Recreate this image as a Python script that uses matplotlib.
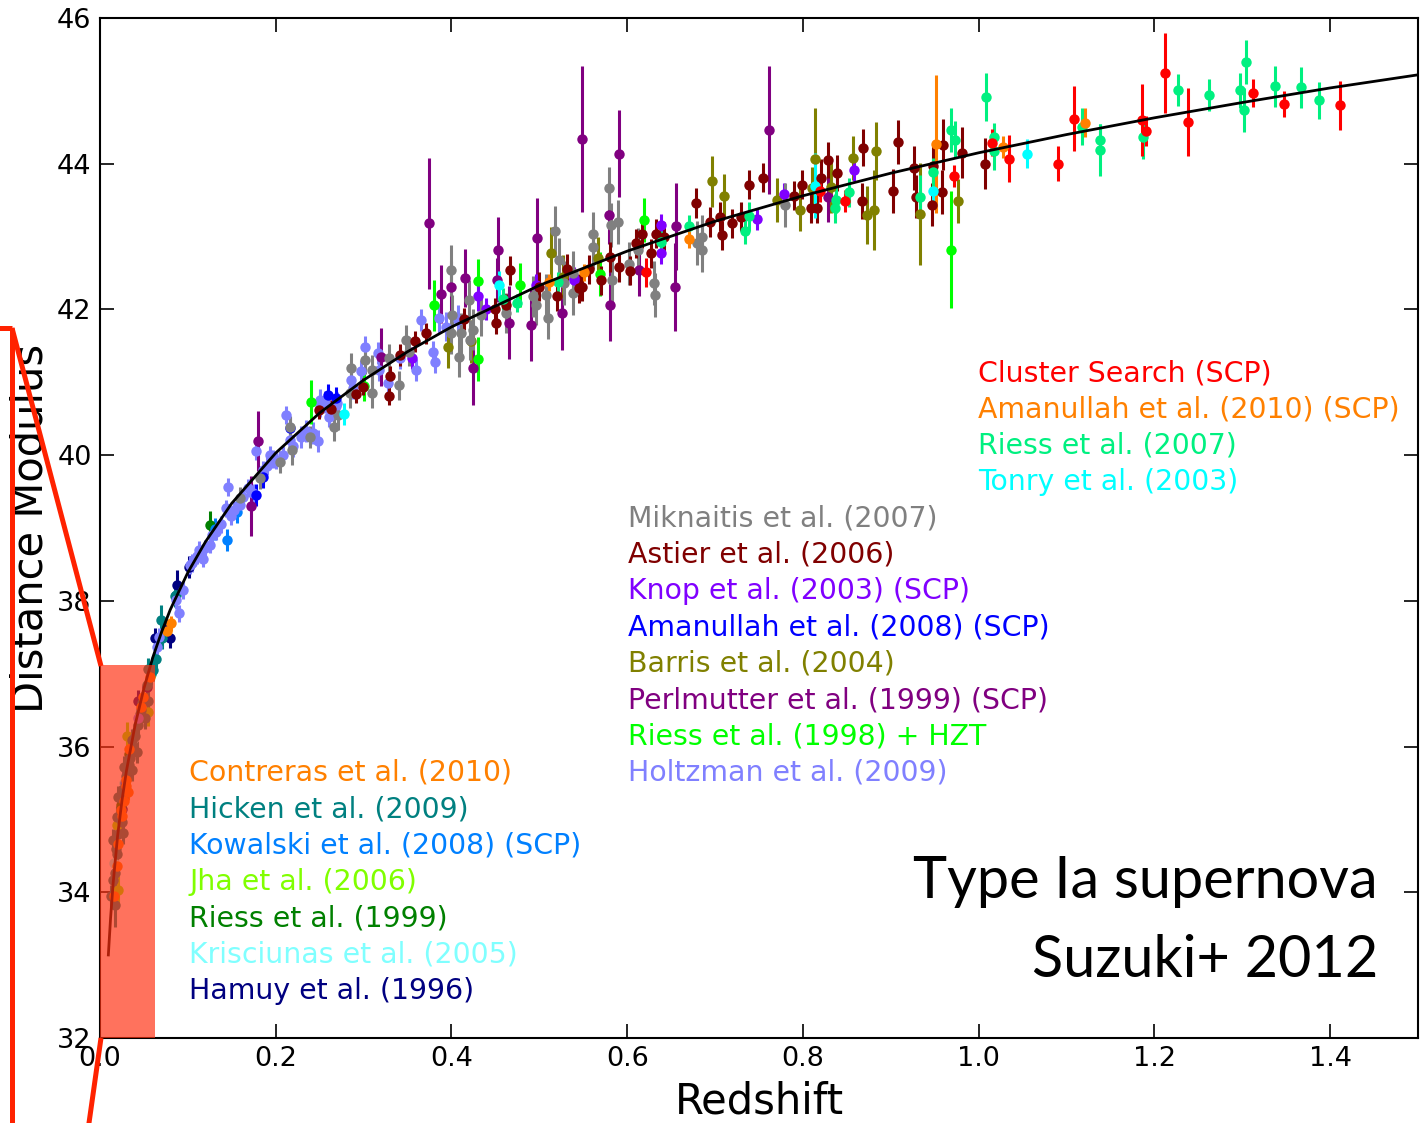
import matplotlib
matplotlib.use("Agg")
import matplotlib.pyplot as plt
from matplotlib.lines import Line2D
from matplotlib.patches import Rectangle

# ---------------- model curve ----------------
curve_z = [0.0095, 0.012, 0.015, 0.02, 0.025, 0.03, 0.04, 0.05, 0.06, 0.07, 0.08, 0.1, 0.12,
           0.15, 0.2, 0.25, 0.3, 0.35, 0.4, 0.5, 0.6, 0.7, 0.8, 0.9, 1.0, 1.1, 1.2, 1.3, 1.4, 1.5]
curve_mu = [33.14, 33.64, 34.13, 34.77, 35.26, 35.66, 36.30, 36.80, 37.22, 37.57, 37.88, 38.39, 38.81,
            39.34, 40.03, 40.58, 41.03, 41.42, 41.76, 42.33, 42.80, 43.21, 43.56, 43.87, 44.15, 44.40,
            44.63, 44.84, 45.04, 45.22]

# ---------------- datasets ----------------
hamuy_z = [0.0435, 0.054, 0.0629, 0.075, 0.0795, 0.0879, 0.1015, 0.031, 0.025]
hamuy_mu = [36.62, 36.82, 37.49, 37.60, 37.49, 38.22, 38.46, 35.65, 35.15]
hamuy_err = [0.15, 0.15, 0.14, 0.15, 0.14, 0.2, 0.15, 0.15, 0.15]

kris_z = [0.016, 0.027, 0.038]
kris_mu = [34.40, 35.50, 36.10]
kris_err = [0.15, 0.15, 0.15]

riess99_z = [0.125, 0.033, 0.024]
riess99_mu = [39.04, 35.90, 35.20]
riess99_err = [0.2, 0.15, 0.15]

jha_z = [0.055, 0.031, 0.019, 0.021]
jha_mu = [36.48, 36.14, 34.92, 34.03]
jha_err = [0.2, 0.2, 0.2, 0.2]

kow_z = [0.1307, 0.144, 0.1564, 0.028]
kow_mu = [38.99, 38.84, 39.22, 35.50]
kow_err = [0.15, 0.15, 0.15, 0.15]

hicken_z = [0.0636, 0.069, 0.070, 0.085, 0.0864, 0.055, 0.053, 0.055, 0.051, 0.040, 0.036, 0.0416,
            0.032, 0.0276, 0.036, 0.030, 0.0246, 0.021, 0.019, 0.0246, 0.0265, 0.015, 0.019, 0.017,
            0.015, 0.017, 0.045, 0.048, 0.058, 0.060, 0.034, 0.038, 0.028, 0.022, 0.026, 0.033,
            0.043, 0.047, 0.013, 0.0185, 0.020]
hicken_mu = [37.20, 37.74, 37.49, 38.06, 38.08, 37.06, 36.85, 36.62, 36.39, 36.14, 36.09, 35.93,
             35.82, 35.72, 35.68, 35.59, 35.40, 35.31, 35.04, 34.97, 34.81, 34.72, 34.53, 34.26,
             34.17, 33.83, 36.45, 36.60, 37.00, 37.05, 35.85, 36.00, 35.45, 35.05, 35.30, 35.75,
             36.30, 36.50, 33.95, 34.60, 34.80]
hicken_err = [0.12, 0.2, 0.15, 0.15, 0.12] + [0.15] * 20 + [0.3] + [0.15] * 15

contreras_z = [0.0568, 0.049, 0.0466, 0.0333, 0.0292, 0.0295, 0.0322, 0.0276, 0.0239, 0.0246,
               0.0208, 0.019, 0.0163, 0.0765, 0.0807]
contreras_mu = [36.96, 36.68, 36.55, 35.96, 35.54, 35.46, 35.37, 35.25, 35.13, 35.05,
                34.66, 34.36, 33.95, 37.58, 37.69]
contreras_err = [0.1] * 15

holtz_z = [0.0435, 0.065, 0.0674, 0.0864, 0.090, 0.0939, 0.1023, 0.105, 0.11, 0.113, 0.117, 0.12,
           0.125, 0.128, 0.132, 0.138, 0.143, 0.146, 0.1496, 0.152, 0.159, 0.163, 0.168, 0.174,
           0.178, 0.1856, 0.19, 0.193, 0.197, 0.2008, 0.208, 0.212, 0.216, 0.22, 0.229, 0.235,
           0.242, 0.248, 0.250, 0.250, 0.256, 0.261, 0.269, 0.2697, 0.286, 0.288, 0.297, 0.302,
           0.316, 0.318, 0.3276, 0.341, 0.360, 0.3655, 0.379, 0.381, 0.386, 0.394, 0.407]
holtz_mu = [36.39, 37.37, 37.51, 38.01, 37.83, 38.15, 38.49, 38.52, 38.62, 38.70, 38.58, 38.72,
            38.77, 38.90, 38.95, 39.05, 39.27, 39.56, 39.16, 39.25, 39.32, 39.42, 39.55, 39.48,
            40.06, 39.80, 39.85, 40.00, 39.95, 39.93, 40.00, 40.55, 40.21, 40.12, 40.25, 40.33,
            40.30, 40.19, 40.76, 40.67, 40.73, 40.53, 40.67, 40.71, 41.03, 40.92, 41.15, 41.49,
            41.40, 41.17, 40.99, 41.33, 41.17, 41.86, 41.42, 41.28, 41.88, 41.76, 41.86]
holtz_err = [0.12] * 32 + [0.15] * 24 + [0.2] * 3

riess98_z = [0.2405, 0.300, 0.380, 0.430, 0.430, 0.478, 0.569, 0.619, 0.968]
riess98_mu = [40.73, 40.95, 42.06, 42.39, 41.32, 42.34, 42.49, 43.23, 42.82]
riess98_err = [0.3, 0.2, 0.35, 0.3, 0.3, 0.3, 0.3, 0.3, 0.8]

perl_z = [0.172, 0.180, 0.320, 0.374, 0.388, 0.3996, 0.4155, 0.424, 0.4515, 0.4527, 0.465, 0.4905,
          0.497, 0.526, 0.549, 0.579, 0.580, 0.591, 0.6136, 0.654, 0.655, 0.761, 0.829]
perl_mu = [39.30, 40.19, 41.35, 43.18, 42.21, 42.31, 42.43, 41.19, 42.40, 42.82, 41.82, 41.79,
           42.98, 41.95, 44.34, 43.30, 42.06, 44.14, 42.54, 42.31, 43.14, 44.46, 43.55]
perl_err = [0.41, 0.41, 0.4, 0.9, 0.4, 0.35, 0.4, 0.5, 0.3, 0.45, 0.5, 0.5,
            0.55, 0.5, 1.0, 0.4, 0.5, 0.6, 0.35, 0.6, 0.6, 0.88, 0.35]

barris_z = [0.396, 0.422, 0.513, 0.527, 0.567, 0.697, 0.710, 0.771, 0.797, 0.8106, 0.8136, 0.832,
            0.857, 0.873, 0.8807, 0.8834, 0.9337, 0.9765]
barris_mu = [41.49, 41.56, 42.78, 42.45, 42.70, 43.76, 43.56, 43.50, 43.37, 43.66, 44.07, 43.68,
             44.08, 43.30, 43.37, 44.17, 43.31, 43.49]
barris_err = [0.3, 0.3, 0.35, 0.3, 0.3, 0.35, 0.3, 0.3, 0.3, 0.3, 0.7, 0.35,
              0.3, 0.4, 0.55, 0.4, 0.7, 0.3]

aman08_z = [0.178, 0.1856, 0.216, 0.2595, 0.269]
aman08_mu = [39.45, 39.70, 40.37, 40.83, 40.78]
aman08_err = [0.15, 0.15, 0.15, 0.15, 0.15]

knop_z = [0.355, 0.430, 0.439, 0.496, 0.539, 0.540, 0.639, 0.639, 0.748, 0.778, 0.858]
knop_mu = [41.33, 42.18, 42.01, 42.34, 42.41, 42.43, 43.16, 42.77, 43.24, 43.59, 43.91]
knop_err = [0.15, 0.2, 0.15, 0.15, 0.15, 0.15, 0.15, 0.15, 0.15, 0.15, 0.15]

astier_z = [0.249, 0.263, 0.2917, 0.299, 0.329, 0.330, 0.341, 0.358, 0.3705, 0.4148, 0.449, 0.451,
            0.462, 0.467, 0.500, 0.520, 0.532, 0.545, 0.549, 0.557, 0.570, 0.580, 0.591, 0.603,
            0.610, 0.617, 0.627, 0.6326, 0.642, 0.678, 0.694, 0.706, 0.7083, 0.7197, 0.729, 0.739,
            0.7545, 0.790, 0.7985, 0.8087, 0.816, 0.820, 0.8288, 0.839, 0.8667, 0.868, 0.903,
            0.908, 0.926, 0.929, 0.948, 0.947, 0.958, 0.9594, 0.981, 1.0076]
astier_mu = [40.62, 40.64, 40.84, 40.94, 40.81, 41.08, 41.37, 41.56, 41.67, 41.87, 42.01, 41.81,
             42.06, 42.54, 42.31, 42.18, 42.56, 42.29, 42.31, 42.55, 42.40, 42.72, 42.58, 42.53,
             42.91, 43.04, 42.77, 43.04, 43.00, 43.46, 43.20, 43.27, 43.02, 43.18, 43.27, 43.71,
             43.81, 43.56, 43.71, 43.39, 43.39, 43.81, 44.05, 43.87, 43.49, 44.22, 43.63,
             44.30, 43.94, 43.55, 43.97, 43.44, 43.61, 44.26, 44.15, 44.00]
astier_err = [0.12] * 5 + [0.15] * 8 + [0.2] * 28 + [0.25] * 5 + [0.3] * 7 + [0.35] * 3

mik_z = [0.159, 0.182, 0.2045, 0.216, 0.218, 0.239, 0.266, 0.271, 0.284, 0.286, 0.302, 0.309,
         0.310, 0.329, 0.340, 0.3485, 0.352, 0.3996, 0.4008, 0.3996, 0.411, 0.409, 0.420, 0.424,
         0.4337, 0.421, 0.462, 0.4925, 0.496, 0.5076, 0.5095, 0.518, 0.522, 0.528, 0.538, 0.538,
         0.5606, 0.5606, 0.5795, 0.5814, 0.590, 0.5826, 0.6015, 0.612, 0.6307, 0.632, 0.679,
         0.6856, 0.6856, 0.780]
mik_mu = [39.41, 39.68, 39.91, 40.39, 40.07, 40.25, 40.39, 40.55, 40.85, 41.20, 41.31, 40.85,
          41.17, 41.33, 40.96, 41.58, 41.42, 42.54, 41.92, 41.67, 41.67, 41.35, 42.13, 41.72,
          41.92, 41.58, 41.95, 42.18, 42.06, 42.20, 41.88, 43.07, 42.68, 42.36, 42.50, 42.22,
          43.04, 42.86, 43.66, 43.16, 43.20, 42.40, 42.63, 42.82, 42.36, 42.20, 42.91,
          42.82, 43.00, 43.43]
mik_err = [0.15, 0.15, 0.15, 0.15, 0.2, 0.15] + [0.2] * 11 + [0.35] + [0.28] * 13 + [0.35] + [0.3] * 18

tonry_z = [0.278, 0.4545, 0.814, 0.948, 1.055]
tonry_mu = [40.56, 42.33, 43.70, 43.63, 44.14]
tonry_err = [0.15, 0.2, 0.45, 0.2, 0.2]

riess07_z = [0.459, 0.475, 0.521, 0.639, 0.670, 0.734, 0.739, 0.837, 0.838, 0.852, 0.933, 0.948,
             0.968, 0.973, 1.008, 1.018, 1.018, 1.118, 1.138, 1.138, 1.1875, 1.227, 1.2625, 1.297,
             1.302, 1.304, 1.3375, 1.367, 1.387]
riess07_mu = [42.14, 42.09, 42.37, 42.92, 43.14, 43.08, 43.28, 43.39, 43.50, 43.61, 43.54, 43.88,
              44.46, 44.33, 44.91, 44.36, 44.17, 44.51, 44.32, 44.19, 44.36, 45.01, 44.94, 45.01,
              44.74, 45.40, 45.06, 45.05, 44.87]
riess07_err = [0.15, 0.12, 0.15, 0.15, 0.15, 0.18, 0.2, 0.2, 0.18, 0.2, 0.3, 0.2,
               0.3, 0.25, 0.33, 0.2, 0.25, 0.25, 0.22, 0.36, 0.3, 0.22, 0.22, 0.24,
               0.3, 0.3, 0.28, 0.28, 0.25]

aman10_z = [0.5106, 0.551, 0.670, 0.951, 1.028, 1.1215]
aman10_mu = [42.37, 42.51, 42.97, 44.27, 44.23, 44.56]
aman10_err = [0.12, 0.12, 0.12, 0.95, 0.15, 0.2]

cluster_z = [0.621, 0.819, 0.848, 0.972, 1.015, 1.035, 1.090, 1.108, 1.186, 1.190, 1.2125, 1.238,
             1.312, 1.347, 1.411]
cluster_mu = [42.51, 43.63, 43.49, 43.83, 44.29, 44.07, 44.00, 44.62, 44.60, 44.45, 45.24, 44.57,
              44.97, 44.82, 44.80]
cluster_err = [0.20, 0.15, 0.15, 0.15, 0.18, 0.32, 0.24, 0.45, 0.50, 0.20, 0.55, 0.47,
               0.19, 0.18, 0.34]

# (label, color, z, mu, err) in drawing order
datasets = [
    ("Hamuy et al. (1996)", "#000080", hamuy_z, hamuy_mu, hamuy_err),
    ("Krisciunas et al. (2005)", "#80ffff", kris_z, kris_mu, kris_err),
    ("Riess et al. (1999)", "#008000", riess99_z, riess99_mu, riess99_err),
    ("Jha et al. (2006)", "#80ff00", jha_z, jha_mu, jha_err),
    ("Kowalski et al. (2008) (SCP)", "#0080ff", kow_z, kow_mu, kow_err),
    ("Hicken et al. (2009)", "#008080", hicken_z, hicken_mu, hicken_err),
    ("Holtzman et al. (2009)", "#8080ff", holtz_z, holtz_mu, holtz_err),
    ("Contreras et al. (2010)", "#ff8000", contreras_z, contreras_mu, contreras_err),
    ("Riess et al. (1998) + HZT", "#00ff00", riess98_z, riess98_mu, riess98_err),
    ("Perlmutter et al. (1999) (SCP)", "#800080", perl_z, perl_mu, perl_err),
    ("Barris et al. (2004)", "#808000", barris_z, barris_mu, barris_err),
    ("Amanullah et al. (2008) (SCP)", "#0000ff", aman08_z, aman08_mu, aman08_err),
    ("Knop et al. (2003) (SCP)", "#8000ff", knop_z, knop_mu, knop_err),
    ("Miknaitis et al. (2007)", "#808080", mik_z, mik_mu, mik_err),
    ("Astier et al. (2006)", "#800000", astier_z, astier_mu, astier_err),
    ("Tonry et al. (2003)", "#00ffff", tonry_z, tonry_mu, tonry_err),
    ("Riess et al. (2007)", "#00f080", riess07_z, riess07_mu, riess07_err),
    ("Amanullah et al. (2010) (SCP)", "#ff8000", aman10_z, aman10_mu, aman10_err),
    ("Cluster Search (SCP)", "#ff0000", cluster_z, cluster_mu, cluster_err),
]
colors = {d[0]: d[1] for d in datasets}

legend_right = ["Cluster Search (SCP)", "Amanullah et al. (2010) (SCP)", "Riess et al. (2007)",
                "Tonry et al. (2003)"]
legend_mid = ["Miknaitis et al. (2007)", "Astier et al. (2006)", "Knop et al. (2003) (SCP)",
              "Amanullah et al. (2008) (SCP)", "Barris et al. (2004)", "Perlmutter et al. (1999) (SCP)",
              "Riess et al. (1998) + HZT", "Holtzman et al. (2009)"]
legend_left = ["Contreras et al. (2010)", "Hicken et al. (2009)", "Kowalski et al. (2008) (SCP)",
               "Jha et al. (2006)", "Riess et al. (1999)", "Krisciunas et al. (2005)", "Hamuy et al. (1996)"]

xticks = [0.0, 0.2, 0.4, 0.6, 0.8, 1.0, 1.2, 1.4]
yticks = [32, 34, 36, 38, 40, 42, 44, 46]

# ---------------- figure ----------------
W, H = 1428, 1123
fig = plt.figure(figsize=(W / 100, H / 100), dpi=100)
ax = fig.add_axes([100 / W, 1 - 1038 / H, 1318 / W, 1020 / H])

for label, col, z, mu, err in datasets:
    ax.errorbar(z, mu, yerr=err, fmt="o", color=col, ecolor=col, ms=7.5, mew=0,
                elinewidth=2.2, capsize=0, zorder=3)

ax.plot(curve_z, curve_mu, color="black", lw=2, zorder=4)

ax.add_patch(Rectangle((0, 32), 0.0625, 37.12 - 32, facecolor="#ff3010", alpha=0.68,
                       edgecolor="none", zorder=10))

ax.set_xlim(0, 1.5)
ax.set_ylim(32, 46)
ax.set_xticks(xticks)
ax.set_xticklabels([f"{t:.1f}" for t in xticks])
ax.set_yticks(yticks)
ax.set_yticklabels([str(t) for t in yticks])
ax.tick_params(direction="in", length=10, width=1.2, top=True, right=True, labelsize=19.5, pad=6)
for s in ax.spines.values():
    s.set_linewidth(1.5)
ax.set_xlabel("Redshift", fontsize=30, labelpad=6)
ax.set_ylabel("Distance Modulus", fontsize=30, va="center")
ax.yaxis.set_label_coords((31 - 100) / 1318, 0.5)

# text legends
def put_list(names, x_px, y0_px, step=36.4):
    for i, n in enumerate(names):
        fig.text(x_px / W, 1 - (y0_px + i * step) / H, n, color=colors[n], fontsize=20.4,
                 ha="left", va="center")

put_list(legend_right, 978, 373)
put_list(legend_mid, 628, 518)
put_list(legend_left, 189, 773)

fig.text(1378 / W, 1 - 898 / H, "Type Ia supernova", fontsize=41.5, family="Lato",
         ha="right", va="baseline", color="black")
fig.text(1378 / W, 1 - 977 / H, "Suzuki+ 2012", fontsize=41.5, family="Lato",
         ha="right", va="baseline", color="black")

# red zoom connector lines (figure pixel positions)
def fl(xs, ys):
    fig.add_artist(Line2D([x / W for x in xs], [1 - y / H for y in ys], color="#ff2200",
                          lw=3.6, solid_capstyle="butt", transform=fig.transFigure, clip_on=False))

fl([-5, 12], [328, 328])
fl([12, 12], [328, 1130])
fl([12, 101], [328, 666])
fl([101, 88], [1038, 1130])

fig.savefig("out.png", dpi=100)
